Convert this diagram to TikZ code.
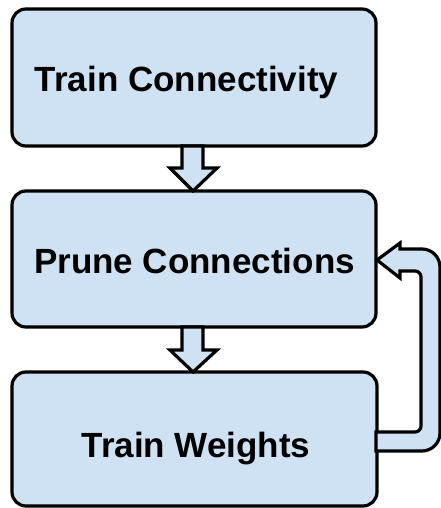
\documentclass[tikz,border=0pt]{standalone}
\usepackage{fontspec}
\setmainfont{Liberation Sans}
\usetikzlibrary{calc}
\definecolor{boxblue}{HTML}{CFE2F3}
\tikzset{
  stepbox/.style={draw=black, fill=boxblue, line width=3.2pt, rounded corners=14pt},
  blockarrow/.style={draw=black, fill=boxblue, line width=3.2pt, line join=miter},
  lbl/.style={font=\fontsize{35}{40}\selectfont\bfseries, anchor=base, inner sep=0pt}
}
\begin{document}
\begin{tikzpicture}[x=1pt,y=-1pt]
\useasboundingbox (0,0) rectangle (441,508);
% boxes
\draw[stepbox] (12,9) rectangle (376,146);
\draw[stepbox] (12,191) rectangle (376,327);
\draw[stepbox] (12,372) rectangle (377,506);
\coordinate (b1s) at (193,146);
\coordinate (b2n) at (193,191);
\coordinate (b2s) at (193,327);
\coordinate (b3n) at (193,372);
\coordinate (b2e) at (377,260);
\coordinate (b3e) at (376,441.5);
% labels
\node[lbl] (t1) at (186.5,92) {Train Connectivity};
\node[lbl] (t2) at (194.5,273) {Prune Connections};
\node[lbl] (t3) at (196,457) {Train Weights};
% down arrows
\draw[blockarrow] ($(b1s)+(-11,0)$) -- ($(b1s)+(-11,22)$) -- ($(b1s)+(-23,22)$) -- (b2n)
  -- ($(b1s)+(24,22)$) -- ($(b1s)+(10,22)$) -- ($(b1s)+(10,0)$) -- cycle;
\draw[blockarrow] ($(b2s)+(-11,0)$) -- ($(b2s)+(-11,23)$) -- ($(b2s)+(-23,23)$) -- (b3n)
  -- ($(b2s)+(24,23)$) -- ($(b2s)+(10,23)$) -- ($(b2s)+(10,0)$) -- cycle;
% feedback arrow
\draw[blockarrow] ($(b3e)+(0,9.5)$) -- (422,451) .. controls (431.9,451) and (440,442.9) .. (440,433)
  -- (440,267) .. controls (440,257.1) and (431.9,249) .. (422,249)
  -- (400,249) -- (400,243) -- (b2e) -- (400,278) -- (400,271) -- (415,271)
  .. controls (418.3,271) and (421,273.7) .. (421,277)
  -- (421,426) .. controls (421,429.3) and (418.3,432) .. (415,432)
  -- ($(b3e)+(0,-9.5)$) -- cycle;
\end{tikzpicture}
\end{document}
